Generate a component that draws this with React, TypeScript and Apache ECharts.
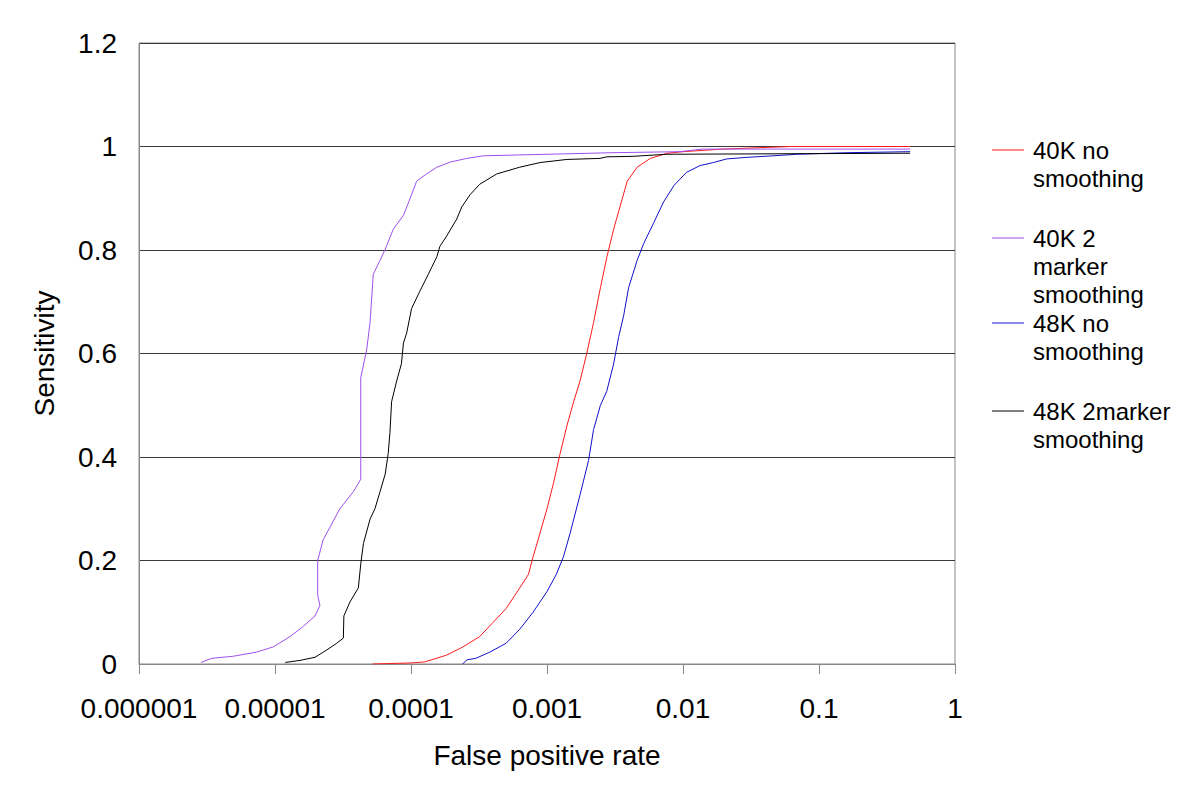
import React, { useEffect, useRef } from "react";
import * as echarts from "echarts";

const xTickLabels = ["0.000001", "0.00001", "0.0001", "0.001", "0.01", "0.1", "1"];

const seriesNames = ["40K no\nsmoothing", "40K 2\nmarker\nsmoothing", "48K no\nsmoothing", "48K 2marker\nsmoothing"];
const seriesColors = ["#ff1a1a", "#9d50ee", "#1010cc", "#000000"];

// 40K no smoothing
const fpr40kNo = [5.2e-5, 1.0e-4, 1.26e-4, 1.82e-4, 2.41e-4, 3.2e-4, 4.0e-4, 5.0e-4, 6.3e-4, 7.3e-4, 7.9e-4, 8.6e-4, 1.0e-3, 1.11e-3, 1.25e-3, 1.4e-3, 1.57e-3, 1.75e-3, 1.96e-3, 2.2e-3, 2.47e-3, 2.76e-3, 3.09e-3, 3.47e-3, 3.89e-3, 4.6e-3, 5.75e-3, 7.66e-3, 0.01, 0.0197, 0.0612, 0.468];
const sens40kNo = [0, 0.002, 0.004, 0.017, 0.033, 0.053, 0.08, 0.107, 0.147, 0.173, 0.207, 0.24, 0.3, 0.347, 0.407, 0.46, 0.507, 0.547, 0.6, 0.66, 0.727, 0.787, 0.84, 0.887, 0.933, 0.96, 0.977, 0.987, 0.99, 0.995, 1.0, 1.0];

// 40K 2 marker smoothing
const fpr40k2m = [2.86e-6, 3.42e-6, 4.94e-6, 7.33e-6, 9.7e-6, 1.29e-5, 1.62e-5, 1.97e-5, 2.14e-5, 2.06e-5, 2.06e-5, 2.26e-5, 3.0e-5, 3.77e-5, 4.27e-5, 4.27e-5, 4.72e-5, 5.0e-5, 5.28e-5, 5.92e-5, 6.6e-5, 7.4e-5, 8.8e-5, 1.01e-4, 1.1e-4, 1.3e-4, 1.55e-4, 1.95e-4, 2.57e-4, 3.4e-4, 1.0e-3, 3.0e-3, 9.5e-3, 0.0138, 0.468];
const sens40k2m = [0.003, 0.011, 0.015, 0.023, 0.033, 0.053, 0.073, 0.093, 0.113, 0.133, 0.2, 0.24, 0.3, 0.333, 0.357, 0.553, 0.607, 0.66, 0.753, 0.78, 0.807, 0.84, 0.867, 0.907, 0.933, 0.947, 0.96, 0.97, 0.977, 0.982, 0.985, 0.988, 0.99, 0.995, 0.995];

// 48K no smoothing
const fpr48kNo = [2.4e-4, 2.57e-4, 3.0e-4, 3.8e-4, 5.0e-4, 6.3e-4, 7.9e-4, 1.0e-3, 1.17e-3, 1.32e-3, 1.48e-3, 1.75e-3, 2.02e-3, 2.2e-3, 2.47e-3, 2.75e-3, 3.09e-3, 3.37e-3, 3.66e-3, 3.98e-3, 4.6e-3, 5.15e-3, 6.1e-3, 7.2e-3, 8.6e-3, 0.01, 0.0106, 0.0133, 0.0167, 0.021, 0.0294, 0.0459, 0.0686, 0.16, 0.468];
const sens48kNo = [0, 0.008, 0.011, 0.023, 0.04, 0.067, 0.1, 0.14, 0.173, 0.207, 0.253, 0.327, 0.393, 0.453, 0.5, 0.527, 0.58, 0.633, 0.673, 0.727, 0.78, 0.813, 0.853, 0.893, 0.925, 0.943, 0.95, 0.963, 0.969, 0.976, 0.979, 0.982, 0.985, 0.988, 0.99];

// 48K 2marker smoothing
const fpr48k2m = [1.19e-5, 1.53e-5, 1.97e-5, 2.4e-5, 2.84e-5, 3.18e-5, 3.21e-5, 3.56e-5, 4.1e-5, 4.27e-5, 4.47e-5, 5.0e-5, 5.43e-5, 5.92e-5, 6.46e-5, 6.8e-5, 7.0e-5, 7.2e-5, 7.85e-5, 8.5e-5, 8.8e-5, 9.3e-5, 1.01e-4, 1.16e-4, 1.34e-4, 1.55e-4, 1.63e-4, 1.83e-4, 2.17e-4, 2.36e-4, 2.72e-4, 3.2e-4, 4.27e-4, 6.3e-4, 8.9e-4, 1.4e-3, 2.45e-3, 2.75e-3, 4.3e-3, 7.6e-3, 0.468];
const sens48k2m = [0.003, 0.007, 0.013, 0.027, 0.04, 0.05, 0.093, 0.12, 0.147, 0.193, 0.233, 0.28, 0.3, 0.333, 0.367, 0.407, 0.447, 0.507, 0.547, 0.58, 0.62, 0.64, 0.687, 0.72, 0.753, 0.787, 0.807, 0.827, 0.86, 0.883, 0.907, 0.927, 0.947, 0.96, 0.969, 0.975, 0.977, 0.98, 0.981, 0.985, 0.987];

const seriesX = [fpr40kNo, fpr40k2m, fpr48kNo, fpr48k2m];
const seriesY = [sens40kNo, sens40k2m, sens48kNo, sens48k2m];

const FONT = "'Liberation Sans', Arial, Helvetica, sans-serif";

export default function App() {
  const ref = useRef<HTMLDivElement>(null);
  useEffect(() => {
    document.body.style.margin = "0";
    if (!ref.current) return;
    const chart = echarts.init(ref.current, undefined, { renderer: "svg" });

    const legendYs = [150, 238, 323, 411];
    const legendGraphics: any[] = [];
    seriesNames.forEach((name, i) => {
      legendGraphics.push({
        type: "line",
        shape: { x1: 992, y1: legendYs[i], x2: 1024, y2: legendYs[i] },
        style: { stroke: seriesColors[i], lineWidth: 1 },
      });
      legendGraphics.push({
        type: "text",
        x: 1033,
        y: legendYs[i] - 14,
        style: {
          text: name,
          font: `24px ${FONT}`,
          fill: "#000",
          lineHeight: 28,
          verticalAlign: "top",
          align: "left",
        },
      });
    });

    chart.setOption({
      animation: false,
      backgroundColor: "#fff",
      grid: {
        left: 139,
        right: 245,
        top: 43,
        bottom: 138,
        show: true,
        borderColor: "#888",
        borderWidth: 1,
        backgroundColor: "transparent",
      },
      xAxis: {
        type: "log",
        logBase: 10,
        min: 1e-6,
        max: 1,
        splitNumber: 6,
        name: "False positive rate",
        nameLocation: "middle",
        nameGap: 77,
        nameTextStyle: { fontSize: 28, color: "#000", fontFamily: FONT },
        axisLine: { lineStyle: { color: "#888", width: 1 } },
        axisTick: { show: true, length: 10, lineStyle: { color: "#888" } },
        minorTick: { show: false },
        splitLine: { show: false },
        axisLabel: {
          fontSize: 28,
          color: "#000",
          fontFamily: FONT,
          margin: 30,
          formatter: (v: number) => {
            const idx = Math.round(Math.log10(v)) + 6;
            return xTickLabels[idx] ?? "";
          },
        },
      },
      yAxis: {
        type: "value",
        min: 0,
        max: 1.2,
        interval: 0.2,
        name: "Sensitivity",
        nameLocation: "middle",
        nameGap: 81,
        nameRotate: 90,
        nameTextStyle: { fontSize: 28, color: "#000", fontFamily: FONT },
        axisLine: { show: true, lineStyle: { color: "#888", width: 1 } },
        axisTick: { show: false },
        splitLine: { show: true, lineStyle: { color: "#3a3a3a", width: 1 } },
        axisLabel: {
          fontSize: 28,
          color: "#000",
          fontFamily: FONT,
          margin: 22,
          formatter: (v: number) => String(+v.toFixed(1)),
        },
      },
      series: seriesNames.map((name, i) => ({
        name,
        type: "line",
        data: seriesX[i].map((x, j) => [x, seriesY[i][j]]),
        showSymbol: false,
        symbol: "none",
        lineStyle: { color: seriesColors[i], width: 1 },
        itemStyle: { color: seriesColors[i] },
        z: 3,
      })),
      graphic: legendGraphics,
    });
    return () => chart.dispose();
  }, []);
  return <div ref={ref} style={{ width: 1200, height: 802 }} />;
}
